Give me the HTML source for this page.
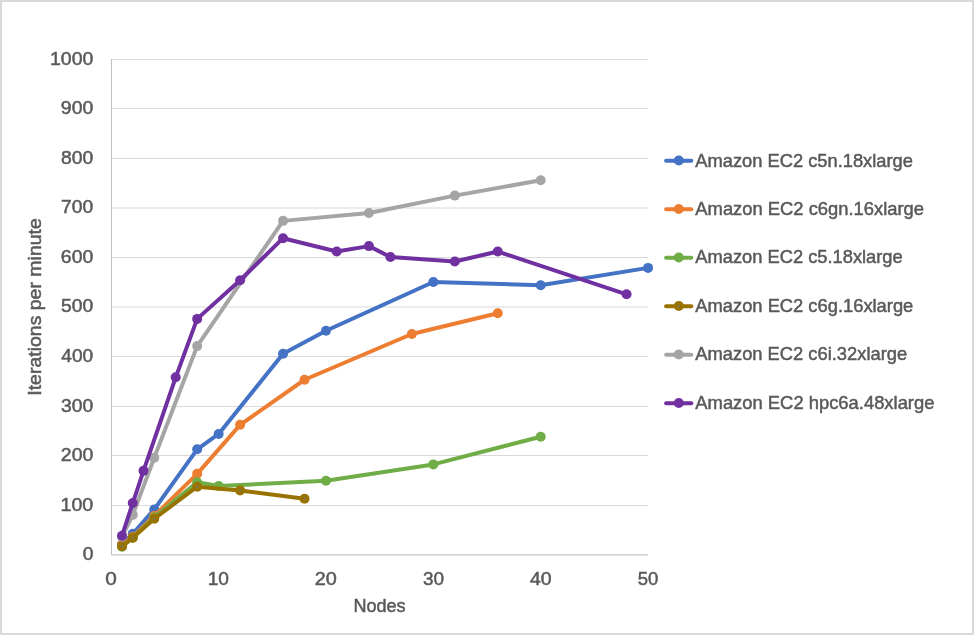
<!DOCTYPE html>
<html><head><meta charset="utf-8"><style>
html,body{margin:0;padding:0;background:#fff;}
svg{display:block;}
text{font-family:"Liberation Sans",sans-serif;}
</style></head><body>
<svg width="974" height="635" viewBox="0 0 974 635" style="will-change:transform">
<rect x="0" y="0" width="974" height="635" fill="#d9d9d9"/>
<rect x="2" y="2" width="970" height="631" fill="#ffffff"/>
<line x1="111" y1="59.5" x2="648" y2="59.5" stroke="#d9d9d9" stroke-width="1"/>
<line x1="111" y1="108.5" x2="648" y2="108.5" stroke="#d9d9d9" stroke-width="1"/>
<line x1="111" y1="158.5" x2="648" y2="158.5" stroke="#d9d9d9" stroke-width="1"/>
<line x1="111" y1="208" x2="648" y2="208" stroke="#d9d9d9" stroke-width="1"/>
<line x1="111" y1="257.5" x2="648" y2="257.5" stroke="#d9d9d9" stroke-width="1"/>
<line x1="111" y1="307" x2="648" y2="307" stroke="#d9d9d9" stroke-width="1"/>
<line x1="111" y1="356.5" x2="648" y2="356.5" stroke="#d9d9d9" stroke-width="1"/>
<line x1="111" y1="406.5" x2="648" y2="406.5" stroke="#d9d9d9" stroke-width="1"/>
<line x1="111" y1="455.5" x2="648" y2="455.5" stroke="#d9d9d9" stroke-width="1"/>
<line x1="111" y1="505.5" x2="648" y2="505.5" stroke="#d9d9d9" stroke-width="1"/>
<line x1="111.5" y1="59" x2="111.5" y2="554.85" stroke="#bfbfbf" stroke-width="1"/>
<line x1="111" y1="554.85" x2="648" y2="554.85" stroke="#c4c4c4" stroke-width="1.4"/>
<g fill="#595959" stroke="#595959" stroke-width="0.5">
<text x="50.02" y="64.95" font-size="19" textLength="43.32" lengthAdjust="spacingAndGlyphs">1000</text>
<text x="60.83" y="113.95" font-size="19" textLength="32.43" lengthAdjust="spacingAndGlyphs">900</text>
<text x="60.99" y="163.95" font-size="19" textLength="32.27" lengthAdjust="spacingAndGlyphs">800</text>
<text x="61.09" y="213.45" font-size="19" textLength="32.17" lengthAdjust="spacingAndGlyphs">700</text>
<text x="60.83" y="262.95" font-size="19" textLength="32.43" lengthAdjust="spacingAndGlyphs">600</text>
<text x="61.09" y="312.45" font-size="19" textLength="32.16" lengthAdjust="spacingAndGlyphs">500</text>
<text x="61.35" y="361.95" font-size="19" textLength="31.90" lengthAdjust="spacingAndGlyphs">400</text>
<text x="61.09" y="411.95" font-size="19" textLength="32.16" lengthAdjust="spacingAndGlyphs">300</text>
<text x="60.83" y="460.95" font-size="19" textLength="32.43" lengthAdjust="spacingAndGlyphs">200</text>
<text x="60.51" y="510.95" font-size="19" textLength="32.76" lengthAdjust="spacingAndGlyphs">100</text>
<text x="82.69" y="560.30" font-size="19" textLength="10.69" lengthAdjust="spacingAndGlyphs">0</text>
<text x="105.21" y="584.60" font-size="19" textLength="11.53" lengthAdjust="spacingAndGlyphs">0</text>
<text x="207.74" y="584.60" font-size="19" textLength="21.25" lengthAdjust="spacingAndGlyphs">10</text>
<text x="314.82" y="584.60" font-size="19" textLength="22.09" lengthAdjust="spacingAndGlyphs">20</text>
<text x="423.00" y="584.60" font-size="19" textLength="21.09" lengthAdjust="spacingAndGlyphs">30</text>
<text x="529.94" y="584.60" font-size="19" textLength="21.66" lengthAdjust="spacingAndGlyphs">40</text>
<text x="637.81" y="584.60" font-size="19" textLength="20.57" lengthAdjust="spacingAndGlyphs">50</text>
<text x="353.41" y="611.70" font-size="19" textLength="52.19" lengthAdjust="spacingAndGlyphs">Nodes</text>
<text x="695.34" y="166.50" font-size="19" textLength="217.56" lengthAdjust="spacingAndGlyphs">Amazon EC2 c5n.18xlarge</text>
<text x="695.34" y="214.95" font-size="19" textLength="228.73" lengthAdjust="spacingAndGlyphs">Amazon EC2 c6gn.16xlarge</text>
<text x="695.34" y="263.40" font-size="19" textLength="207.39" lengthAdjust="spacingAndGlyphs">Amazon EC2 c5.18xlarge</text>
<text x="695.34" y="311.85" font-size="19" textLength="217.96" lengthAdjust="spacingAndGlyphs">Amazon EC2 c6g.16xlarge</text>
<text x="695.34" y="360.30" font-size="19" textLength="211.80" lengthAdjust="spacingAndGlyphs">Amazon EC2 c6i.32xlarge</text>
<text x="695.34" y="408.75" font-size="19" textLength="239.10" lengthAdjust="spacingAndGlyphs">Amazon EC2 hpc6a.48xlarge</text>
<text transform="translate(40.75,395.74) rotate(-90)" x="0" y="0" font-size="19" textLength="177.56" lengthAdjust="spacingAndGlyphs">Iterations per minute</text>
</g>
<polyline points="122.03,544.60 132.77,533.71 154.24,509.45 197.18,449.31 218.65,433.97 283.06,353.78 326.00,330.76 433.35,282.00 540.70,285.22 648.05,267.89" fill="none" stroke="#4472C4" stroke-width="4" stroke-linejoin="round" stroke-linecap="round"/>
<circle cx="122.03" cy="544.60" r="5" fill="#4472C4"/>
<circle cx="132.77" cy="533.71" r="5" fill="#4472C4"/>
<circle cx="154.24" cy="509.45" r="5" fill="#4472C4"/>
<circle cx="197.18" cy="449.31" r="5" fill="#4472C4"/>
<circle cx="218.65" cy="433.97" r="5" fill="#4472C4"/>
<circle cx="283.06" cy="353.78" r="5" fill="#4472C4"/>
<circle cx="326.00" cy="330.76" r="5" fill="#4472C4"/>
<circle cx="433.35" cy="282.00" r="5" fill="#4472C4"/>
<circle cx="540.70" cy="285.22" r="5" fill="#4472C4"/>
<circle cx="648.05" cy="267.89" r="5" fill="#4472C4"/>
<polyline points="122.03,545.10 132.77,536.68 154.24,515.89 197.18,473.81 240.12,424.81 304.53,379.76 411.88,333.98 497.76,313.19" fill="none" stroke="#ED7D31" stroke-width="4" stroke-linejoin="round" stroke-linecap="round"/>
<circle cx="122.03" cy="545.10" r="5" fill="#ED7D31"/>
<circle cx="132.77" cy="536.68" r="5" fill="#ED7D31"/>
<circle cx="154.24" cy="515.89" r="5" fill="#ED7D31"/>
<circle cx="197.18" cy="473.81" r="5" fill="#ED7D31"/>
<circle cx="240.12" cy="424.81" r="5" fill="#ED7D31"/>
<circle cx="304.53" cy="379.76" r="5" fill="#ED7D31"/>
<circle cx="411.88" cy="333.98" r="5" fill="#ED7D31"/>
<circle cx="497.76" cy="313.19" r="5" fill="#ED7D31"/>
<polyline points="122.03,546.83 132.77,537.67 154.24,517.38 197.18,482.23 218.65,485.94 326.00,480.75 433.35,464.41 540.70,436.69" fill="none" stroke="#70AD47" stroke-width="4" stroke-linejoin="round" stroke-linecap="round"/>
<circle cx="122.03" cy="546.83" r="5" fill="#70AD47"/>
<circle cx="132.77" cy="537.67" r="5" fill="#70AD47"/>
<circle cx="154.24" cy="517.38" r="5" fill="#70AD47"/>
<circle cx="197.18" cy="482.23" r="5" fill="#70AD47"/>
<circle cx="218.65" cy="485.94" r="5" fill="#70AD47"/>
<circle cx="326.00" cy="480.75" r="5" fill="#70AD47"/>
<circle cx="433.35" cy="464.41" r="5" fill="#70AD47"/>
<circle cx="540.70" cy="436.69" r="5" fill="#70AD47"/>
<polyline points="122.03,546.13 132.77,537.77 154.24,518.71 197.18,486.69 240.12,490.40 304.53,498.71" fill="none" stroke="#997300" stroke-width="4" stroke-linejoin="round" stroke-linecap="round"/>
<circle cx="122.03" cy="546.13" r="5" fill="#997300"/>
<circle cx="122.03" cy="546.13" r="0.9" fill="#6b7799"/>
<circle cx="132.77" cy="537.77" r="5" fill="#997300"/>
<circle cx="132.77" cy="537.77" r="0.9" fill="#6b7799"/>
<circle cx="154.24" cy="518.71" r="5" fill="#997300"/>
<circle cx="154.24" cy="518.71" r="0.9" fill="#6b7799"/>
<circle cx="197.18" cy="486.69" r="5" fill="#997300"/>
<circle cx="197.18" cy="486.69" r="0.9" fill="#6b7799"/>
<circle cx="240.12" cy="490.40" r="5" fill="#997300"/>
<circle cx="240.12" cy="490.40" r="0.9" fill="#6b7799"/>
<circle cx="304.53" cy="498.71" r="5" fill="#997300"/>
<circle cx="304.53" cy="498.71" r="0.9" fill="#6b7799"/>
<polyline points="122.03,536.68 132.77,514.90 154.24,457.68 197.18,346.11 283.06,220.87 368.94,212.95 454.82,195.62 540.70,180.28" fill="none" stroke="#A5A5A5" stroke-width="4" stroke-linejoin="round" stroke-linecap="round"/>
<circle cx="122.03" cy="536.68" r="5" fill="#A5A5A5"/>
<circle cx="132.77" cy="514.90" r="5" fill="#A5A5A5"/>
<circle cx="154.24" cy="457.68" r="5" fill="#A5A5A5"/>
<circle cx="197.18" cy="346.11" r="5" fill="#A5A5A5"/>
<circle cx="283.06" cy="220.87" r="5" fill="#A5A5A5"/>
<circle cx="368.94" cy="212.95" r="5" fill="#A5A5A5"/>
<circle cx="454.82" cy="195.62" r="5" fill="#A5A5A5"/>
<circle cx="540.70" cy="180.28" r="5" fill="#A5A5A5"/>
<polyline points="122.03,535.69 132.77,503.02 143.50,470.85 175.71,377.29 197.18,318.88 240.12,280.27 283.06,238.19 336.74,251.56 368.94,246.12 390.41,257.00 454.82,261.46 497.76,251.56 626.58,294.28" fill="none" stroke="#7030A0" stroke-width="4" stroke-linejoin="round" stroke-linecap="round"/>
<circle cx="122.03" cy="535.69" r="5" fill="#7030A0"/>
<circle cx="132.77" cy="503.02" r="5" fill="#7030A0"/>
<circle cx="143.50" cy="470.85" r="5" fill="#7030A0"/>
<circle cx="175.71" cy="377.29" r="5" fill="#7030A0"/>
<circle cx="197.18" cy="318.88" r="5" fill="#7030A0"/>
<circle cx="240.12" cy="280.27" r="5" fill="#7030A0"/>
<circle cx="283.06" cy="238.19" r="5" fill="#7030A0"/>
<circle cx="336.74" cy="251.56" r="5" fill="#7030A0"/>
<circle cx="368.94" cy="246.12" r="5" fill="#7030A0"/>
<circle cx="390.41" cy="257.00" r="5" fill="#7030A0"/>
<circle cx="454.82" cy="261.46" r="5" fill="#7030A0"/>
<circle cx="497.76" cy="251.56" r="5" fill="#7030A0"/>
<circle cx="626.58" cy="294.28" r="5" fill="#7030A0"/>
<line x1="666.1" y1="160.80" x2="691.3" y2="160.80" stroke="#4472C4" stroke-width="4" stroke-linecap="round"/>
<circle cx="678.8" cy="160.55" r="5" fill="#4472C4"/>
<line x1="666.1" y1="209.30" x2="691.3" y2="209.30" stroke="#ED7D31" stroke-width="4" stroke-linecap="round"/>
<circle cx="678.8" cy="209.05" r="5" fill="#ED7D31"/>
<line x1="666.1" y1="257.80" x2="691.3" y2="257.80" stroke="#70AD47" stroke-width="4" stroke-linecap="round"/>
<circle cx="678.8" cy="257.55" r="5" fill="#70AD47"/>
<line x1="666.1" y1="306.30" x2="691.3" y2="306.30" stroke="#997300" stroke-width="4" stroke-linecap="round"/>
<circle cx="678.8" cy="306.05" r="5" fill="#997300"/>
<circle cx="678.8" cy="306.05" r="0.9" fill="#6b7799"/>
<line x1="666.1" y1="354.80" x2="691.3" y2="354.80" stroke="#A5A5A5" stroke-width="4" stroke-linecap="round"/>
<circle cx="678.8" cy="354.55" r="5" fill="#A5A5A5"/>
<line x1="666.1" y1="403.30" x2="691.3" y2="403.30" stroke="#7030A0" stroke-width="4" stroke-linecap="round"/>
<circle cx="678.8" cy="403.05" r="5" fill="#7030A0"/>
</svg>
</body></html>
